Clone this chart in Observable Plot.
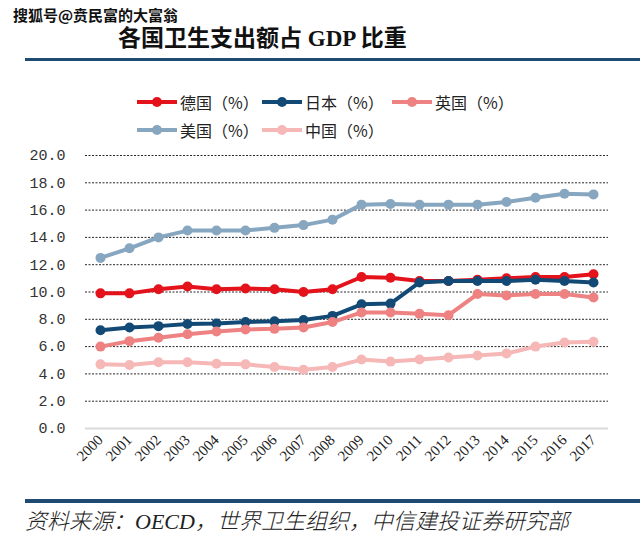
<!DOCTYPE html>
<html>
<head>
<meta charset="utf-8">
<script src="https://cdn.jsdelivr.net/npm/d3@7"></script>
<script src="https://cdn.jsdelivr.net/npm/@observablehq/plot@0.6"></script>
<style>
  html, body { margin: 0; padding: 0; background: #fff; }
  #wrap { position: relative; width: 640px; height: 547px; overflow: hidden; font-family: "Noto Sans CJK SC", sans-serif; }
  .abs { position: absolute; white-space: nowrap; }
  #watermark { left: 13px; top: 4px; font-size: 15px; font-weight: bold; color: #111;
    text-shadow: -1px -1px 0 #fff, 1px -1px 0 #fff, -1px 1px 0 #fff, 1px 1px 0 #fff; }
  #title { left: 118px; top: 24px; font-size: 23px; font-weight: bold; color: #111;
    font-family: "Liberation Serif", "Noto Sans CJK SC", serif; line-height: 30px; }
  .rule { position: absolute; left: 25px; right: 0; background: #1f4b73; }
  #caption { left: 25px; top: 507px; font-size: 22px; font-style: italic; color: #222; font-weight: 300;
    font-family: "Liberation Serif", "Noto Sans CJK SC", serif; line-height: 30px; }
  .leg { position: absolute; display: flex; align-items: center; font-size: 16px; color: #222; height: 20px; }
  .leg svg { margin-right: 3px; }
  #chart { position: absolute; left: 0; top: 140px; }
</style>
</head>
<body>
<div id="wrap">
  <div id="watermark" class="abs">搜狐号@贲民富的大富翁</div>
  <div id="title" class="abs">各国卫生支出额占 GDP 比重</div>
  <div class="rule" style="top:58px;height:3px;"></div>
  <div id="legend"></div>
  <div id="chart"></div>
  <div class="rule" style="top:499px;height:4px;"></div>
  <div id="caption" class="abs">资料来源：OECD，世界卫生组织，中信建投证券研究部</div>
</div>
<script>
const years = ["2000","2001","2002","2003","2004","2005","2006","2007","2008","2009","2010","2011","2012","2013","2014","2015","2016","2017"];
const seriesNames = ["德国（%）","日本（%）","英国（%）","美国（%）","中国（%）"];
const seriesColors = ["#e3121b","#134a75","#ee8282","#87a6c0","#f6b7b7"];
const germany = [9.9,9.9,10.2,10.4,10.2,10.25,10.2,10.0,10.2,11.1,11.05,10.8,10.8,10.9,11.0,11.1,11.1,11.3];
const japan   = [7.2,7.4,7.5,7.65,7.7,7.8,7.85,7.95,8.25,9.1,9.15,10.7,10.8,10.8,10.8,10.9,10.8,10.7];
const uk      = [6.0,6.4,6.65,6.9,7.1,7.25,7.3,7.4,7.8,8.5,8.5,8.4,8.3,9.85,9.75,9.85,9.85,9.6];
const usa     = [12.5,13.2,14.0,14.5,14.5,14.5,14.7,14.9,15.3,16.4,16.45,16.4,16.4,16.4,16.6,16.9,17.2,17.15];
const china   = [4.7,4.65,4.85,4.85,4.75,4.7,4.5,4.3,4.5,5.05,4.9,5.05,5.2,5.35,5.5,6.0,6.3,6.35];
const yTicks  = [0,2,4,6,8,10,12,14,16,18,20];

const seriesValues = [germany, japan, uk, usa, china];
const data = seriesValues.map((vals, i) => vals.map((v, j) => ({year: years[j], value: v, country: seriesNames[i]})));

// legend
const legendPos = [[137,92],[262,92],[392,92],[137,120],[262,120]];
const legend = document.getElementById("legend");
seriesNames.forEach((name, i) => {
  const d = document.createElement("div");
  d.className = "leg";
  d.style.left = legendPos[i][0] + "px";
  d.style.top = legendPos[i][1] + "px";
  d.innerHTML = `<svg width="40" height="12"><line x1="0" y1="6" x2="40" y2="6" stroke="${seriesColors[i]}" stroke-width="4"/><circle cx="20" cy="6" r="5" fill="${seriesColors[i]}"/></svg><span>${name}</span>`;
  legend.appendChild(d);
});

const marks = [
  Plot.ruleY(yTicks.filter(t => t > 0), {stroke: "#000", strokeWidth: 1, strokeDasharray: "2,1.5", strokeOpacity: 0.85}),
  Plot.ruleY([0], {stroke: "#d9d9d9", strokeWidth: 2}),
  Plot.axisY({ticks: yTicks, tickFormat: d => d.toFixed(1), tickSize: 0, tickPadding: 20,
    fontSize: 15, fontFamily: "Liberation Mono, monospace", fill: "#333"}),
  Plot.axisX({tickSize: 0, tickPadding: 9, tickRotate: -45, fontSize: 15,
    fontFamily: "Liberation Serif, serif", fill: "#222"})
];
data.forEach((series, i) => {
  marks.push(Plot.line(series, {x: "year", y: "value", stroke: seriesColors[i], strokeWidth: 4, strokeLinejoin: "round", strokeLinecap: "round"}));
  marks.push(Plot.dot(series, {x: "year", y: "value", fill: seriesColors[i], r: 5}));
});

const chart = Plot.plot({
  width: 640,
  height: 340,
  marginTop: 15,
  marginBottom: 52,
  marginLeft: 85,
  marginRight: 32,
  style: {background: "transparent", overflow: "visible"},
  x: {type: "point", domain: years, padding: 0.5, label: null},
  y: {domain: [0, 20], label: null},
  marks
});
document.getElementById("chart").appendChild(chart);
</script>
</body>
</html>
